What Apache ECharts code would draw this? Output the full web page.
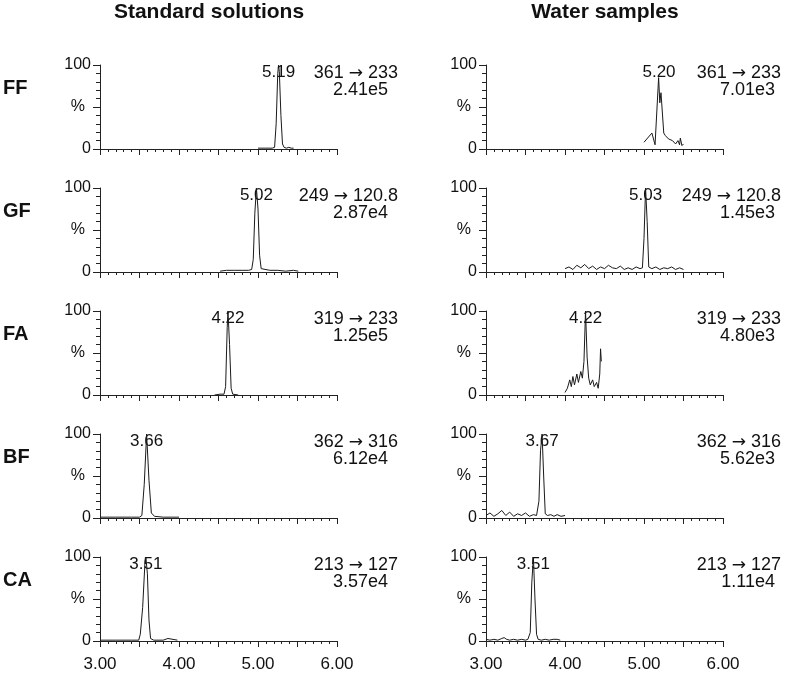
<!DOCTYPE html>
<html>
<head>
<meta charset="utf-8">
<script src="https://cdn.jsdelivr.net/npm/echarts@6/dist/echarts.min.js"></script>
<style>
html,body{margin:0;padding:0;background:#fff;}
#chart{width:787px;height:677px;}
</style>
</head>
<body>
<div id="chart"></div>
<script>
// ---- data ----
const rowNames = ['FF', 'GF', 'FA', 'BF', 'CA'];
const columnTitles = ['Standard solutions', 'Water samples'];
const xTicks = [3, 4, 5, 6];
const precursorIons = ['361', '249', '319', '362', '213'];
const productIons = ['233', '120.8', '233', '316', '127'];
const stdIntensity = ['2.41e5', '2.87e4', '1.25e5', '6.12e4', '3.57e4'];
const waterIntensity = ['7.01e3', '1.45e3', '4.80e3', '5.62e3', '1.11e4'];
const stdRT = ['5.19', '5.02', '4.22', '3.66', '3.51'];
const waterRT = ['5.20', '5.03', '4.22', '3.67', '3.51'];
const stdPeakPos = [5.26, 4.98, 4.62, 3.59, 3.58];
const waterPeakPos = [5.19, 5.02, 4.26, 3.71, 3.60];

const stdFF = [[5.00,1],[5.10,1],[5.18,1],[5.21,2],[5.23,30],[5.25,90],[5.26,100],[5.27,92],[5.29,40],[5.31,6],[5.33,2],[5.36,1],[5.39,2],[5.42,1],[5.45,1]];
const stdGF = [[4.52,1],[4.60,2],[4.70,2],[4.80,2],[4.88,2],[4.92,3],[4.94,15],[4.96,70],[4.98,100],[5.00,75],[5.02,20],[5.04,4],[5.06,2],[5.15,2],[5.25,2],[5.35,1],[5.45,2],[5.51,1]];
const stdFA = [[4.45,0],[4.52,1],[4.57,1],[4.59,10],[4.61,80],[4.62,100],[4.64,60],[4.66,8],[4.68,1],[4.75,0]];
const stdBF = [[3.00,1],[3.20,1],[3.40,1],[3.50,1],[3.53,3],[3.56,40],[3.59,100],[3.62,45],[3.65,6],[3.69,2],[3.80,1],[3.90,1],[4.00,1]];
const stdCA = [[3.00,1],[3.20,1],[3.40,1],[3.49,1],[3.51,8],[3.54,40],[3.57,95],[3.58,100],[3.60,80],[3.62,25],[3.64,3],[3.68,1],[3.80,1],[3.86,3],[3.88,1],[3.98,1]];

const waterFF = [[5.00,8],[5.10,19],[5.14,5],[5.185,85],[5.20,55],[5.215,67],[5.25,19],[5.27,16],[5.29,17],[5.31,12],[5.33,14],[5.36,10],[5.38,11],[5.40,6],[5.42,4],[5.43,10],[5.45,5],[5.46,13],[5.48,4],[5.50,6]];
const waterGF = [[4.00,4],[4.05,6],[4.10,3],[4.15,8],[4.20,5],[4.25,9],[4.30,4],[4.35,7],[4.40,3],[4.45,6],[4.50,4],[4.55,8],[4.60,5],[4.65,4],[4.70,7],[4.75,3],[4.80,5],[4.85,3],[4.90,6],[4.95,4],[4.98,5],[5.00,40],[5.02,100],[5.04,60],[5.06,6],[5.10,4],[5.15,6],[5.20,3],[5.25,5],[5.30,4],[5.35,6],[5.40,3],[5.45,5],[5.50,3]];
const waterFA = [[4.00,3],[4.03,8],[4.06,18],[4.08,10],[4.10,22],[4.12,12],[4.15,25],[4.17,15],[4.20,28],[4.22,20],[4.24,40],[4.26,100],[4.28,45],[4.30,20],[4.32,12],[4.35,18],[4.37,10],[4.40,15],[4.42,8],[4.44,25],[4.45,55],[4.46,40]];
const waterBF = [[3.00,3],[3.05,6],[3.10,2],[3.15,5],[3.20,9],[3.25,3],[3.30,7],[3.35,2],[3.40,5],[3.45,3],[3.50,6],[3.55,2],[3.60,4],[3.64,3],[3.67,20],[3.69,80],[3.71,100],[3.73,50],[3.75,5],[3.78,3],[3.82,4],[3.86,2],[3.90,4],[3.95,2],[4.00,3]];
const waterCA = [[3.00,2],[3.05,1],[3.10,2],[3.15,1],[3.20,3],[3.23,4],[3.26,2],[3.30,1],[3.35,2],[3.40,1],[3.45,2],[3.50,1],[3.53,2],[3.56,10],[3.58,70],[3.60,100],[3.62,50],[3.64,8],[3.66,2],[3.70,1],[3.75,2],[3.80,1],[3.85,2],[3.90,2],[3.94,1]];

const stdTraces = [stdFF, stdGF, stdFA, stdBF, stdCA];
const waterTraces = [waterFF, waterGF, waterFA, waterBF, waterCA];

// ---- layout ----
const FONT = 'Liberation Sans, Arial, sans-serif';
const INK = '#111';
const colLeft = [100, 486];
const colRight = [398, 781];
const colRight2 = [388, 775];
const colTitleX = [209, 605];
const rowTop0 = 65, rowStep = 123, plotH = 84, plotW = 237;

const grids = [], xAxes = [], yAxes = [], series = [], graphics = [];

for (let r = 0; r < rowNames.length; r++) {
  const top = rowTop0 + rowStep * r;
  for (let c = 0; c < 2; c++) {
    const g = r * 2 + c;
    grids.push({left: colLeft[c], top: top, width: plotW, height: plotH, containLabel: false});
    xAxes.push({
      gridIndex: g, type: 'value', min: 3, max: 6, interval: 0.5,
      axisLine: {show: true, onZero: false, lineStyle: {color: '#222', width: 1}},
      axisTick: {show: true, length: 6, lineStyle: {color: '#222', width: 1}},
      minorTick: {show: true, splitNumber: 5, length: 3, lineStyle: {color: '#222', width: 1}},
      splitLine: {show: false}, minorSplitLine: {show: false},
      axisLabel: {
        show: r === rowNames.length - 1,
        formatter: v => xTicks.includes(v) ? v.toFixed(2) : '',
        fontSize: 17, fontFamily: FONT, color: INK, margin: 15
      }
    });
    yAxes.push({
      gridIndex: g, type: 'value', min: 0, max: 100, interval: 50,
      axisLine: {show: true, lineStyle: {color: '#222', width: 1}},
      axisTick: {show: true, length: 7, lineStyle: {color: '#222', width: 1}},
      minorTick: {show: true, splitNumber: 5, length: 4, lineStyle: {color: '#222', width: 1}},
      splitLine: {show: false}, minorSplitLine: {show: false},
      axisLabel: {
        formatter: v => v === 50 ? '{p|%}' : String(v),
        fontSize: 16, fontFamily: FONT, color: INK, margin: 9,
        rich: {p: {fontSize: 16, fontFamily: FONT, color: INK, padding: [0, 6, 0, 0]}}
      }
    });
    const trace = c === 0 ? stdTraces[r] : waterTraces[r];
    series.push({
      type: 'line', xAxisIndex: g, yAxisIndex: g, data: trace,
      showSymbol: false, symbol: 'none', smooth: false,
      lineStyle: {color: '#1a1a1a', width: 1}, silent: true, animation: false
    });
    const pos = c === 0 ? stdPeakPos[r] : waterPeakPos[r];
    const txt = c === 0 ? stdRT[r] : waterRT[r];
    series.push({
      type: 'scatter', xAxisIndex: g, yAxisIndex: g, data: [[pos, 100]],
      symbolSize: 1, itemStyle: {color: 'transparent', opacity: 1}, silent: true, animation: false, clip: false,
      label: {show: true, position: 'top', distance: 0, offset: [0, 16], formatter: txt, opacity: 1,
              fontSize: 17, fontFamily: FONT, color: INK, textBorderWidth: 0}
    });
    graphics.push({type: 'text', style: {
      x: colRight[c], y: top + 8.5,
      text: precursorIons[r] + ' {a|\u2192} ' + productIons[r],
      rich: {a: {font: '17px DejaVu Sans', fill: INK, fontFamily: 'DejaVu Sans', fontSize: 17}},
      textAlign: 'right', textVerticalAlign: 'middle',
      font: '18px ' + FONT, fill: INK}});
    graphics.push({type: 'text', style: {
      x: colRight2[c], y: top + 25, text: c === 0 ? stdIntensity[r] : waterIntensity[r],
      textAlign: 'right', textVerticalAlign: 'middle', font: '18px ' + FONT, fill: INK}});
  }
  graphics.push({type: 'text', style: {
    x: 3, y: top + 23, text: rowNames[r], textAlign: 'left', textVerticalAlign: 'middle',
    font: 'bold 20px ' + FONT, fill: INK}});
}
for (let c = 0; c < 2; c++) {
  graphics.push({type: 'text', style: {
    x: colTitleX[c], y: 12, text: columnTitles[c], textAlign: 'center', textVerticalAlign: 'middle',
    font: 'bold 21px ' + FONT, fill: INK}});
}

const chart = echarts.init(document.getElementById('chart'), null, {renderer: 'canvas'});
chart.setOption({
  animation: false,
  backgroundColor: '#fff',
  grid: grids, xAxis: xAxes, yAxis: yAxes, series: series, graphic: graphics
});
</script>
</body>
</html>
